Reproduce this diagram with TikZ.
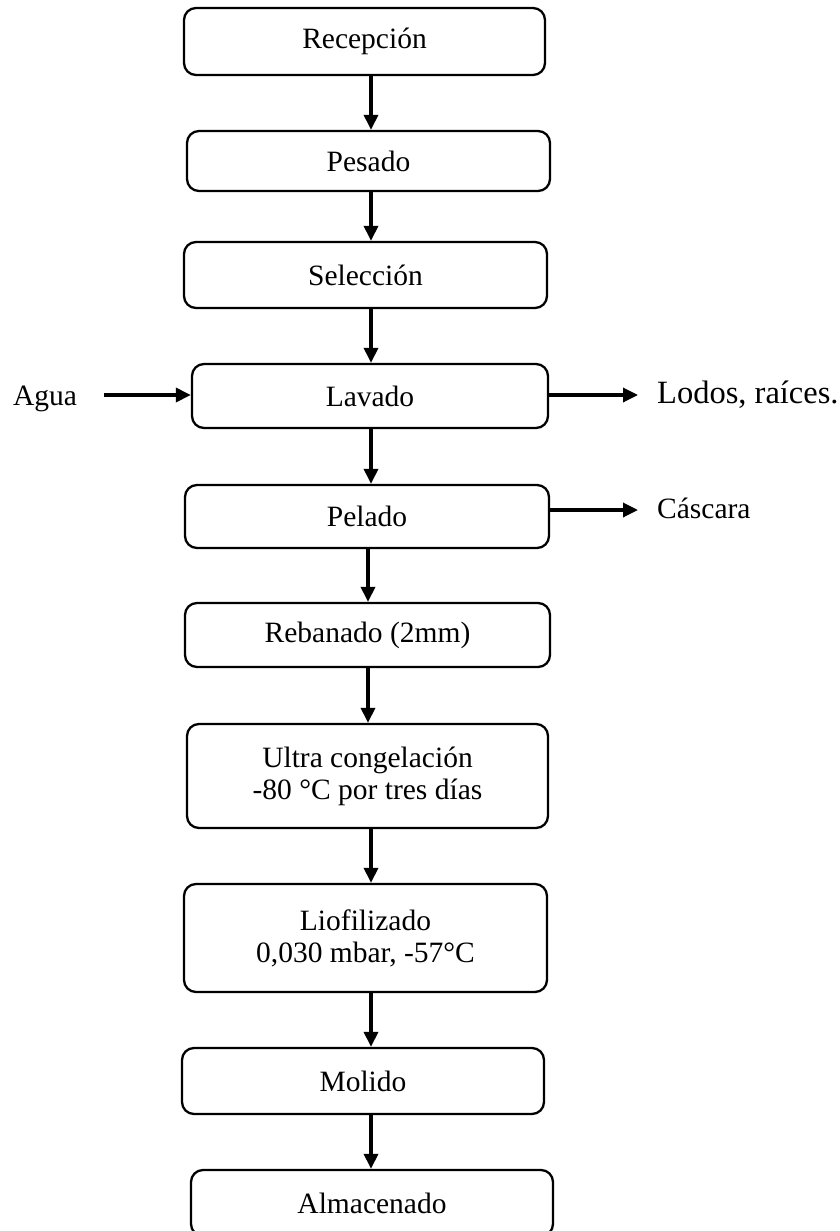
\documentclass[tikz,border=0pt]{standalone}
\usepackage{fontspec}
\setmainfont{Liberation Serif}
\usetikzlibrary{arrows.meta}
\begin{document}
\begin{tikzpicture}[x=1pt,y=-1pt,
  box/.style={draw, line width=2.3pt, rounded corners=12pt, align=center, inner sep=0pt, font=\fontsize{29.5}{32}\selectfont},
  lbl/.style={inner sep=0pt, anchor=base west, font=\fontsize{29.5}{32}\selectfont},
  arr/.style={line width=3.3pt, -{Triangle[length=15pt,width=14pt]}}]
\useasboundingbox (0,0) rectangle (839,1231);
\clip (0,0) rectangle (839,1231);
\node[box, minimum width=361pt, minimum height=67pt] (rec) at (364.5,41.5) {Recepción};
\node[box, minimum width=363pt, minimum height=60pt] (pes) at (368.5,161) {Pesado};
\node[box, minimum width=363pt, minimum height=66pt] (sel) at (365.5,275) {Selección};
\node[box, minimum width=356pt, minimum height=64pt] (lav) at (370,396) {Lavado};
\node[box, minimum width=364pt, minimum height=63pt] (pel) at (367,516.5) {Pelado};
\node[box, minimum width=365pt, minimum height=64pt] (reb) at (367.5,635) {Rebanado (2mm)};
\node[box, minimum width=361pt, minimum height=104pt] (ult) at (367.5,776) {Ultra congelación\\-80 °C por tres días};
\node[box, minimum width=363pt, minimum height=108pt] (lio) at (365.5,938) {Liofilizado\\0,030 mbar, -57°C};
\node[box, minimum width=362pt, minimum height=66pt] (mol) at (363,1081) {Molido};
\node[box, minimum width=362pt, minimum height=66pt] (alm) at (372,1203) {Almacenado};
\coordinate (ax) at (371,0);
\coordinate (bx) at (368,0);
\draw[arr] (rec.south -| ax) -- (pes.north -| ax);
\draw[arr] (pes.south -| ax) -- (sel.north -| ax);
\draw[arr] (sel.south -| ax) -- (lav.north -| ax);
\draw[arr] (lav.south -| ax) -- (pel.north -| ax);
\draw[arr] (pel.south -| bx) -- (reb.north -| bx);
\draw[arr] (reb.south -| bx) -- (ult.north -| bx);
\draw[arr] (ult.south -| ax) -- (lio.north -| ax);
\draw[arr] (lio.south -| ax) -- (mol.north -| ax);
\draw[arr] (mol.south -| ax) -- (alm.north -| ax);
\node[lbl] (agua) at (13,405) {Agua};
\coordinate (aw) at (104,395);
\draw[arr] (aw) -- (aw -| lav.west);
\node[lbl, font=\fontsize{32.5}{36}\selectfont] (lod) at (657,403) {Lodos, raíces.};
\coordinate (le) at (638,395);
\draw[arr] (le -| lav.east) -- (le);
\node[lbl] (cas) at (657,518) {Cáscara};
\coordinate (ce) at (638,510);
\draw[arr] (ce -| pel.east) -- (ce);
\end{tikzpicture}
\end{document}
